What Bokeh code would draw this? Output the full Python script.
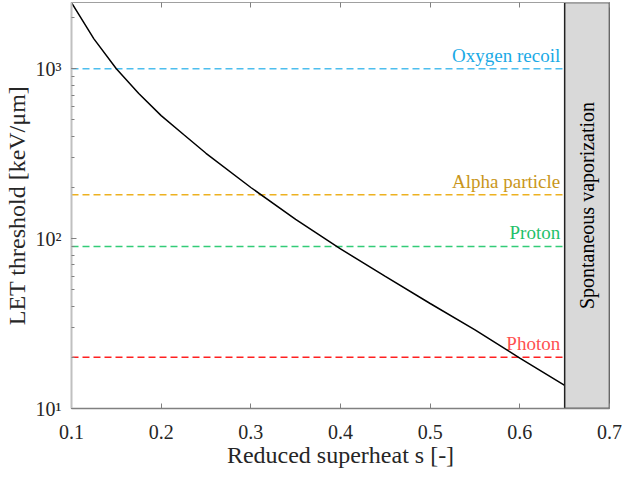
import math
from bokeh.plotting import figure
from bokeh.models import Range1d, LinearAxis, FixedTicker, LogTicker, ColumnDataSource
from bokeh.core.properties import value
from bokeh.embed import file_html
from bokeh.resources import INLINE

# ---- data ----
s_values = [0.10, 0.125, 0.15, 0.175, 0.20, 0.225, 0.25, 0.30, 0.35, 0.40, 0.45, 0.50, 0.55, 0.60, 0.65]
let_values = [2450, 1500, 1000, 715, 530, 410, 318, 200, 130, 87, 60, 41.5, 29, 19.8, 13.7]

threshold_names = ["Oxygen recoil", "Alpha particle", "Proton", "Photon"]
threshold_values = [1000, 181, 90, 20]
threshold_line_colors = ["#4DBEEE", "#EDB120", "#33CC77", "#FF2020"]
threshold_text_colors = ["#1AAAE6", "#C9961A", "#1FC16A", "#FF5050"]

s_min, s_max = 0.1, 0.7
vapor_start, vapor_end = 0.65, 0.7
let_min, let_max = 10, 2455
x_ticks = [0.1, 0.2, 0.3, 0.4, 0.5, 0.6, 0.7]
y_tick_labels = {10: "10¹", 100: "10²", 1000: "10³"}
vapor_label = "Spontaneous vaporization"

FONT = "Liberation Serif"

p = figure(width=622, height=477, output_backend="svg", toolbar_location=None,
           x_range=Range1d(s_min, s_max), y_range=Range1d(let_min, let_max),
           y_axis_type="log", min_border_left=70, min_border_right=13,
           min_border_top=2, min_border_bottom=69)
p.grid.visible = False
p.outline_line_color = "#A0A0A0"
p.outline_line_width = 1
p.background_fill_color = "white"
p.border_fill_color = "white"

# x axis
xa = p.xaxis[0]
xa.ticker = FixedTicker(ticks=x_ticks)
xa.major_label_overrides = {t: f"{t:.1f}" for t in x_ticks}
xa.axis_label = "Reduced superheat s [-]"
xa.axis_line_color = "#808080"
xa.axis_line_width = 1.5
xa.major_tick_in = 5
xa.major_tick_out = 0
xa.major_tick_line_color = "#808080"
xa.minor_tick_line_color = None
xa.major_label_standoff = 16
xa.axis_label_standoff = 0
xa.major_label_text_font = FONT
xa.major_label_text_font_size = "20px"
xa.major_label_text_color = "#262626"
xa.axis_label_text_font = FONT
xa.axis_label_text_font_size = "24px"
xa.axis_label_text_font_style = "normal"
xa.axis_label_text_color = "#262626"

# y axis
ya = p.yaxis[0]
ya.ticker = LogTicker(num_minor_ticks=10)
ya.major_label_overrides = y_tick_labels
ya.axis_label = "LET threshold [keV/μm]"
ya.axis_line_color = "#C0C0C0"
ya.axis_line_width = 2
ya.major_tick_in = 5
ya.major_tick_out = 0
ya.minor_tick_in = 3
ya.minor_tick_out = 0
ya.major_tick_line_color = "#808080"
ya.minor_tick_line_color = "#808080"
ya.major_label_standoff = 10
ya.axis_label_standoff = 3
ya.major_label_text_font = FONT
ya.major_label_text_font_size = "20px"
ya.major_label_text_color = "#262626"
ya.axis_label_text_font = FONT
ya.axis_label_text_font_size = "24px"
ya.axis_label_text_font_style = "normal"
ya.axis_label_text_color = "#262626"

# top axis (ticks only, no labels)
top = LinearAxis(ticker=FixedTicker(ticks=x_ticks),
                 major_label_overrides={t: "" for t in x_ticks},
                 major_label_text_font_size="1px",
                 major_tick_in=5, major_tick_out=0, minor_tick_line_color=None,
                 axis_line_color="#A0A0A0", major_tick_line_color="#808080",
                 major_label_standoff=0)
p.add_layout(top, "above")

# threshold lines
n = len(threshold_values)
src = ColumnDataSource(dict(x0=[s_min] * n, x1=[vapor_start] * n, y=threshold_values,
                            lc=threshold_line_colors, tc=threshold_text_colors,
                            name=threshold_names, tx=[vapor_start - 0.005] * n))
p.segment(x0="x0", y0="y", x1="x1", y1="y", source=src, line_color="lc",
          line_width=1.5, line_dash="7 4")
p.text(x="tx", y="y", text="name", source=src, text_color="tc",
       text_font=value(FONT), text_font_size="19px", text_align="right",
       text_baseline="bottom", y_offset=-3)

# curve
p.line(s_values, let_values, line_color="black", line_width=1.5)

# spontaneous vaporization region
p.quad(left=[vapor_start], right=[vapor_end], bottom=[let_min], top=[let_max],
       fill_color="#D9D9D9", line_color="#222222", line_width=1.5)
p.text(x=[(vapor_start + vapor_end) / 2], y=[math.sqrt(let_min * let_max)],
       text=[vapor_label], angle=math.pi / 2, text_align="center",
       text_baseline="middle", text_color="black", text_font=value(FONT),
       text_font_size="20px")

open("out.html", "w").write(file_html(p, INLINE))
